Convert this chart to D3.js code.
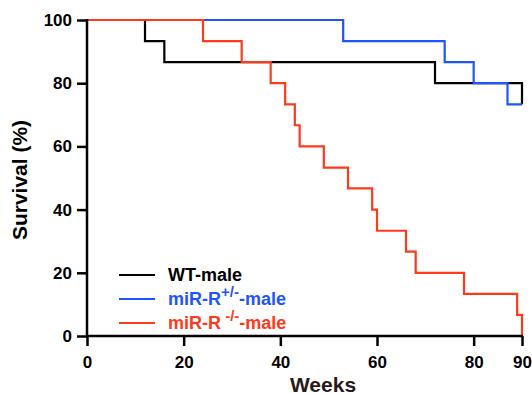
<!DOCTYPE html>
<html><head><meta charset="utf-8">
<script src="https://cdn.jsdelivr.net/npm/d3@7"></script>
<style>body{margin:0;background:#fff}svg{display:block}text{font-family:Arial,"Liberation Sans",sans-serif;font-weight:bold}</style>
</head><body><svg id="c" width="532" height="394"></svg>
<script>
const wtWeeks = [0,12,16,72,90];
const wtSurv  = [100,93.3,86.7,80,73.3];
const hetWeeks = [0,53,74,80,87,90];
const hetSurv  = [100,93.3,86.7,80,73.3,73.3];
const koWeeks = [0,24,32,38,41,43,44,49,54,59,60,66,68,78,89,90];
const koSurv  = [100,93.3,86.7,80,73.3,66.7,60,53.3,46.7,40,33.3,26.7,20,13.3,6.7,0];
const xTicks = [0,20,40,60,80,90];
const yTicks = [0,20,40,60,80,100];
const seriesNames = ["WT-male","miR-R","miR-R"];
const colors = ["#000000","#1f55ff","#ff3a1a"];

const svg = d3.select("#c");
const x = d3.scaleLinear().domain([0,90]).range([87,522]);
const y = d3.scaleLinear().domain([0,100]).range([336,20]);

const series = [
  {w:wtWeeks,s:wtSurv,c:colors[0]},
  {w:hetWeeks,s:hetSurv,c:colors[1]},
  {w:koWeeks,s:koSurv,c:colors[2]}
];
const line = d3.line().x(d=>x(d[0])).y(d=>y(d[1])).curve(d3.curveStepAfter);
series.forEach(sr=>{
  svg.append("path").attr("d",line(sr.w.map((w,i)=>[w,sr.s[i]])))
    .attr("fill","none").attr("stroke",sr.c).attr("stroke-width",2.2);
});

const xAxis = svg.append("g").attr("transform","translate(0,336)")
  .call(d3.axisBottom(x).tickValues(xTicks).tickSize(10).tickPadding(10).tickSizeOuter(0));
const yAxis = svg.append("g").attr("transform","translate(87,0)")
  .call(d3.axisLeft(y).tickValues(yTicks).tickSize(10).tickPadding(5).tickSizeOuter(0));
[xAxis,yAxis].forEach(a=>{
  a.select(".domain").attr("stroke","#000").attr("stroke-width",2.5);
  a.selectAll(".tick line").attr("stroke","#000").attr("stroke-width",2.5);
  a.selectAll(".tick text").attr("fill","#000").style("font-size","17px").style("font-family","Arial, 'Liberation Sans', sans-serif").style("font-weight","bold");
});
xAxis.select(".domain").attr("d","M"+x(0)+",0H"+(x(90)+1));
yAxis.select(".domain").attr("d","M0,"+(y(0)+1)+"V"+(y(100)-1));

svg.append("text").attr("x",323).attr("y",392).attr("text-anchor","middle")
  .attr("fill","#2a1a1a").style("font-size","21px").text("Weeks");
svg.append("text").attr("transform","translate(27,180) rotate(-90)").attr("text-anchor","middle")
  .attr("fill","#000").style("font-size","21px").text("Survival (%)");

const ly = [275,299,323];
const sups = [null,"+/-"," -/-"];
series.forEach((sr,i)=>{
  svg.append("line").attr("x1",119).attr("x2",155).attr("y1",ly[i]).attr("y2",ly[i])
    .attr("stroke",sr.c).attr("stroke-width",2.2);
  const t = svg.append("text").attr("x",168).attr("y",ly[i]+6).attr("fill",sr.c).style("font-size","18px");
  if(i===0){ t.text(seriesNames[0]); }
  else {
    t.append("tspan").text(seriesNames[i]);
    t.append("tspan").attr("dy",-8).style("font-size","15px").text(sups[i]);
    t.append("tspan").attr("dy",8).text("-male");
  }
});
</script></body></html>
